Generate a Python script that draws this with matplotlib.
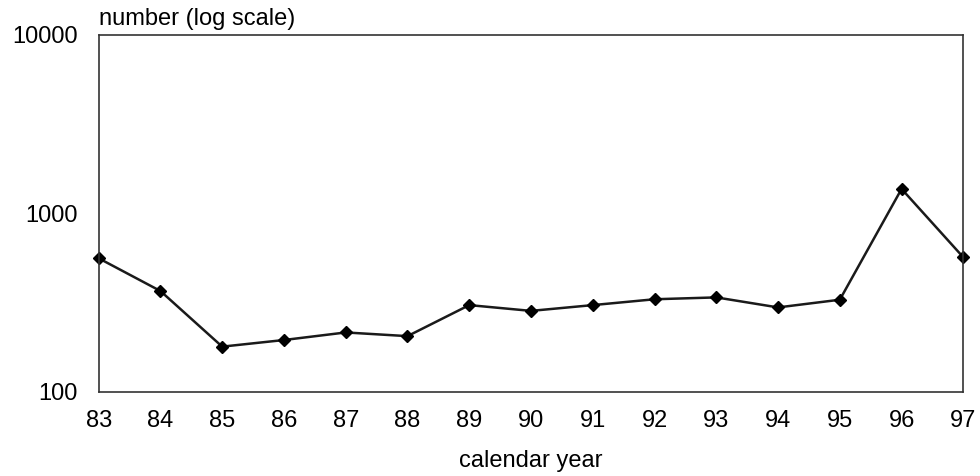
import numpy as np
from matplotlib import pyplot as plt
from matplotlib.ticker import FixedLocator, NullLocator

years = ['83', '84', '85', '86', '87', '88', '89', '90', '91', '92', '93', '94', '95', '96', '97']
counts = [560, 367, 179, 195, 215, 205, 306, 284, 306, 330, 338, 297, 328, 1371, 567]

plt.rcParams['font.family'] = ['Liberation Sans', 'DejaVu Sans']

fig = plt.figure(figsize=(9.8, 4.76), dpi=100)
ax = fig.add_axes([0.1007, 0.177, 0.8823, 0.7495])

x = np.arange(len(years))
ax.plot(x, counts, color='#1a1a1a', lw=1.8, marker='D', markersize=6.5,
        markerfacecolor='black', markeredgecolor='black', clip_on=False)

ax.set_yscale('log')
ax.set_ylim(100, 10000)
ax.set_xlim(x[0], x[-1])
ax.yaxis.set_major_locator(FixedLocator([100, 1000, 10000]))
ax.yaxis.set_minor_locator(NullLocator())
ax.set_yticklabels(['100', '1000', '10000'])
ax.set_xticks(x)
ax.set_xticklabels(years)
ax.tick_params(axis='y', length=0, pad=15, labelsize=17)
ax.tick_params(axis='x', length=0, pad=13, labelsize=17)

for s in ax.spines.values():
    s.set_color('#333333')
    s.set_linewidth(1.2)

fig.text(0.5418, 0.0195, 'calendar year', fontsize=17, ha='center', va='baseline')
fig.text(0.1007, 0.9475, 'number (log scale)', fontsize=17, ha='left', va='baseline')

fig.savefig('out.png', dpi=100)
